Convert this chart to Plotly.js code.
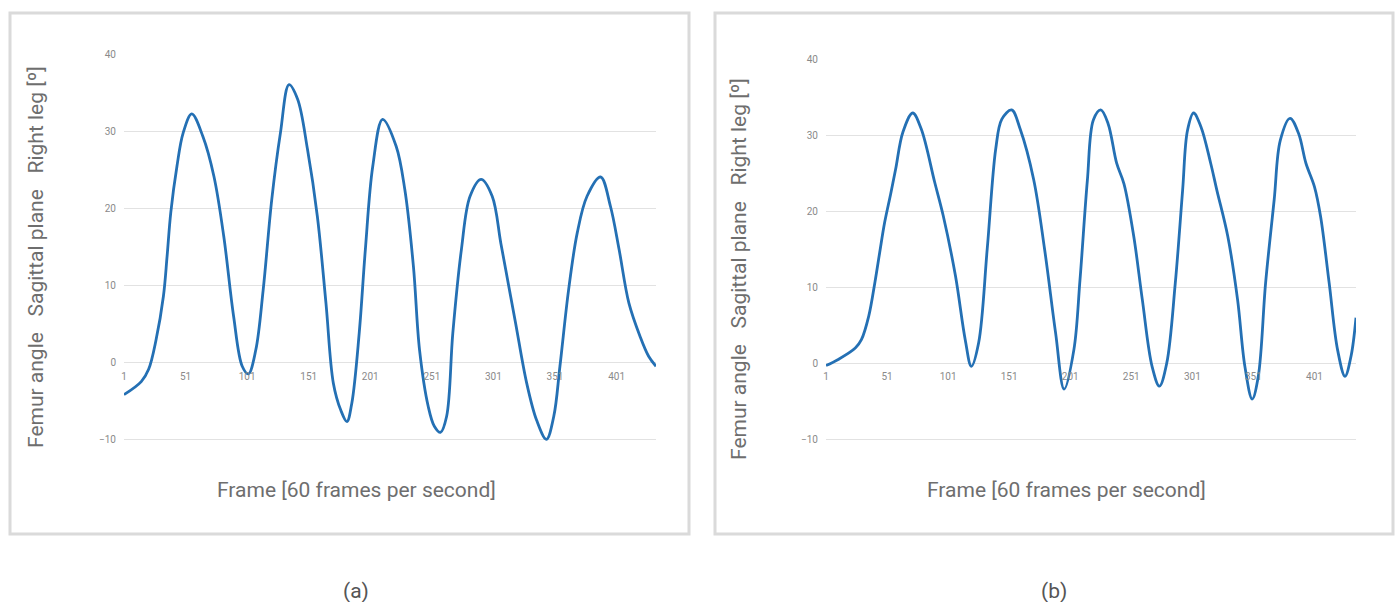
<!DOCTYPE html>
<html>
<head>
<meta charset="utf-8">
<script src="https://cdn.plot.ly/plotly-3.0.1.min.js"></script>
<style>
  html, body { margin: 0; padding: 0; background: #ffffff; }
  #chart { width: 1397px; height: 602px; }
</style>
</head>
<body>
<div id="chart"></div>
<script>
// ---- Data ----
// Panel (a)
const framesA = [1, 15, 21, 27, 33, 36, 39, 44, 49, 56, 65, 74, 82, 90, 97, 102, 108, 114, 121, 128, 135,
  142, 150, 158, 165, 171, 177, 182, 186, 192, 197, 203, 211, 222, 229, 236, 241, 248, 253, 258, 263,
  268, 275, 282, 291, 300, 307, 313, 319, 328, 336, 344, 350, 355, 362, 369, 377, 388, 396, 403, 411,
  420, 427, 433];
const angleA = [-4.2, -2.5, -0.9, 2.9, 8.6, 13.8, 19.5, 25.5, 29.8, 32.3, 29.4, 24.2, 16.4, 6.0, -0.5, -1.5, 1.6, 9.4, 21.2, 29.8, 36.1,
  34.2, 27.7, 19.0, 7.7, -2.7, -6.2, -7.7, -5.3, 3.8, 14.7, 25.5, 31.6, 28.1, 22.5, 12.5, 1.6, -5.7, -8.3, -9.1, -7.0,
  3.8, 14.7, 21.6, 23.8, 21.6, 15.5, 10.3, 5.1, -2.7, -7.5, -10.0, -7.0, -0.5, 9.4, 16.8, 21.6, 24.1, 20.3, 14.7, 7.7,
  3.4, 0.8, -0.5];

// Panel (b)
const framesB = [1, 11, 25, 30, 36, 41, 45, 49, 54, 58, 64, 72, 79, 90, 97, 107, 115, 120, 126, 133, 140, 145,
  153, 160, 171, 180, 189, 196, 204, 209, 215, 220, 226, 232, 239, 245, 253, 260, 268, 274, 280, 287,
  293, 297, 302, 308, 316, 321, 330, 338, 344, 350, 355, 361, 368, 373, 381, 388, 394, 401, 406, 413,
  420, 426, 431, 435];
const angleB = [-0.3, 0.5, 2.0, 3.1, 6.2, 10.6, 14.6, 18.5, 22.3, 25.5, 30.4, 32.9, 30.8, 23.8, 19.4, 11.5, 3.1, -0.4, 2.7, 15.0, 28.2, 32.1,
  33.3, 30.8, 24.2, 15.0, 4.0, -3.4, 1.8, 11.0, 24.0, 32.0, 33.3, 31.5, 26.3, 23.6, 16.7, 8.4, -0.4, -3.0, 0.0, 10.5,
  22.7, 30.6, 32.9, 31.1, 26.3, 22.8, 16.7, 8.4, -0.4, -4.7, -1.7, 10.6, 21.5, 29.3, 32.2, 30.2, 26.3, 23.2, 19.3, 10.6,
  1.7, -1.7, 1.0, 6.0];

const xTickLabels = ["1", "51", "101", "151", "201", "251", "301", "351", "401"];
const xTickVals = [1, 51, 101, 151, 201, 251, 301, 351, 401];
const yTitleText = "Femur angle\u00a0\u00a0\u00a0Sagittal plane\u00a0\u00a0\u00a0Right leg [º]";
const xTitleText = "Frame [60 frames per second]";
const captions = ["(a)", "(b)"];

// ---- Layout helpers (pixel -> paper) ----
const W = 1397, H = 602;
const px = v => v / W;
const py = v => 1 - v / H;

const lineColor = "#2470b4";
const gridColor = "#e2e2e2";
const tickFont = { family: "Roboto, Arial, sans-serif", size: 10, color: "#8a8a8a" };
const titleFont = { family: "Roboto, Arial, sans-serif", size: 21, color: "#6e6e6e" };

const traces = [
  { x: framesA, y: angleA, xaxis: "x", yaxis: "y", type: "scatter", mode: "lines",
    line: { color: lineColor, width: 2.8, shape: "spline", smoothing: 1 }, hoverinfo: "skip" },
  { x: framesB, y: angleB, xaxis: "x2", yaxis: "y2", type: "scatter", mode: "lines",
    line: { color: lineColor, width: 2.8, shape: "spline", smoothing: 1 }, hoverinfo: "skip" }
];

function xAxis(domain, range, pos) {
  return {
    domain: domain, range: range, anchor: "free", position: pos,
    tickmode: "array", tickvals: xTickVals, ticktext: xTickLabels,
    showgrid: false, zeroline: false, showline: false,
    ticks: "outside", ticklen: 4, tickcolor: "rgba(0,0,0,0)",
    tickfont: tickFont, fixedrange: true
  };
}
function yAxis(domain, anchor) {
  return {
    domain: domain, range: [-11, 40], anchor: anchor,
    tickmode: "linear", tick0: 0, dtick: 10,
    showgrid: true, gridcolor: gridColor, gridwidth: 1,
    zeroline: true, zerolinecolor: gridColor, zerolinewidth: 1,
    showline: false, ticks: "outside", ticklen: 5, tickcolor: "rgba(0,0,0,0)",
    tickfont: tickFont, fixedrange: true
  };
}

const layout = {
  width: W, height: H,
  margin: { l: 0, r: 0, t: 0, b: 0 },
  paper_bgcolor: "#ffffff", plot_bgcolor: "rgba(0,0,0,0)",
  showlegend: false,
  xaxis: xAxis([px(124), px(656)], [1, 433], py(362.7)),
  yaxis: yAxis([py(447), py(54.7)], "x"),
  xaxis2: xAxis([px(826), px(1356)], [1, 435], py(363.3)),
  yaxis2: yAxis([py(447), py(59)], "x2"),
  shapes: [
    { type: "rect", xref: "paper", yref: "paper", x0: px(10), x1: px(689), y0: py(534), y1: py(13),
      line: { color: "#dadada", width: 3 }, fillcolor: "rgba(0,0,0,0)", layer: "below" },
    { type: "rect", xref: "paper", yref: "paper", x0: px(715), x1: px(1393), y0: py(534), y1: py(13),
      line: { color: "#dadada", width: 3 }, fillcolor: "rgba(0,0,0,0)", layer: "below" }
  ],
  annotations: [
    { text: yTitleText, xref: "paper", yref: "paper", x: px(36), y: py(257), textangle: -90,
      showarrow: false, xanchor: "center", yanchor: "middle", font: titleFont },
    { text: yTitleText, xref: "paper", yref: "paper", x: px(739), y: py(269), textangle: -90,
      showarrow: false, xanchor: "center", yanchor: "middle", font: titleFont },
    { text: xTitleText, xref: "paper", yref: "paper", x: px(356), y: py(490),
      showarrow: false, xanchor: "center", yanchor: "middle", font: titleFont },
    { text: xTitleText, xref: "paper", yref: "paper", x: px(1066), y: py(490),
      showarrow: false, xanchor: "center", yanchor: "middle", font: titleFont },
    { text: captions[0], xref: "paper", yref: "paper", x: px(356), y: py(591),
      showarrow: false, xanchor: "center", yanchor: "middle",
      font: { family: "Roboto, Arial, sans-serif", size: 21, color: "#555555" } },
    { text: captions[1], xref: "paper", yref: "paper", x: px(1054), y: py(591),
      showarrow: false, xanchor: "center", yanchor: "middle",
      font: { family: "Roboto, Arial, sans-serif", size: 21, color: "#555555" } }
  ]
};

Plotly.newPlot("chart", traces, layout, { staticPlot: true, displayModeBar: false });
</script>
</body>
</html>
